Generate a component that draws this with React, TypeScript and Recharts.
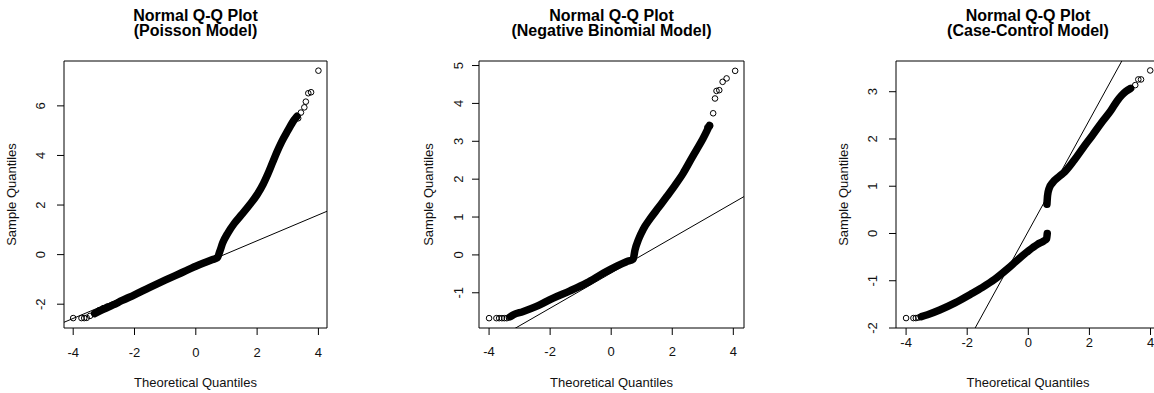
import React from 'react';
import { ComposedChart, Line, Scatter, XAxis, YAxis, ReferenceArea } from 'recharts';

type Pt = [number, number];

// ---------- data ----------
const xTicks = [-4, -2, 0, 2, 4];
const poissonYTicks = [-2, 0, 2, 4, 6];
const negBinYTicks = [-1, 0, 1, 2, 3, 4, 5];
const caseControlYTicks = [-2, -1, 0, 1, 2, 3];

// dense body of the Q-Q points (theoretical, sample)
const poissonBand: Pt[] = [
  [-3.3, -2.38], [-3.0, -2.2], [-2.7, -2.03], [-2.4, -1.85], [-2.0, -1.62], [-1.5, -1.32],
  [-1.0, -1.03], [-0.5, -0.75], [0.0, -0.47], [0.3, -0.32], [0.55, -0.2], [0.7, -0.13],
  [0.78, 0.12], [0.88, 0.48], [1.05, 0.88], [1.25, 1.25], [1.5, 1.62], [1.75, 2.0],
  [2.0, 2.42], [2.2, 2.85], [2.35, 3.25], [2.5, 3.7], [2.65, 4.15], [2.8, 4.55], [3.0, 5.0],
  [3.2, 5.42], [3.3, 5.58],
];
// sparse tail points
const poissonTails: Pt[] = [
  [-4.0, -2.56], [-3.73, -2.56], [-3.64, -2.56], [-3.56, -2.55], [-3.45, -2.47], [-3.3, -2.35],
  [-3.15, -2.24], [-3.02, -2.16], [-2.9, -2.1],
  [3.34, 5.5], [3.43, 5.73], [3.54, 5.94], [3.59, 6.17], [3.67, 6.51], [3.76, 6.55], [4.0, 7.42],
];
const poissonQQLine = { intercept: -0.485, slope: 0.522 };

const negBinBand: Pt[] = [
  [-3.3, -1.63], [-3.2, -1.58], [-2.9, -1.5], [-2.45, -1.36], [-1.9, -1.14], [-1.35, -0.95],
  [-0.8, -0.74], [-0.25, -0.48], [0.2, -0.29], [0.5, -0.18], [0.72, -0.11], [0.78, 0.13],
  [0.9, 0.42], [1.05, 0.68], [1.27, 0.95], [1.55, 1.25], [1.82, 1.54], [2.1, 1.85],
  [2.36, 2.16], [2.6, 2.5], [2.8, 2.78], [3.0, 3.06], [3.15, 3.3], [3.22, 3.42],
];
const negBinTails: Pt[] = [
  [-4.0, -1.67], [-3.76, -1.67], [-3.67, -1.67], [-3.58, -1.67], [-3.5, -1.67], [-3.42, -1.67], [-3.35, -1.65],
  [3.15, 3.37], [3.24, 3.4], [3.34, 3.74], [3.4, 4.13], [3.45, 4.33], [3.54, 4.35], [3.65, 4.57], [3.78, 4.66], [4.06, 4.86],
];
const negBinQQLine = { intercept: -0.478, slope: 0.464 };

const caseControlLowerBand: Pt[] = [
  [-3.5, -1.76], [-3.3, -1.72], [-2.9, -1.62], [-2.4, -1.47], [-1.9, -1.29], [-1.5, -1.14],
  [-1.1, -0.97], [-0.7, -0.76], [-0.3, -0.53], [0.0, -0.37], [0.3, -0.23], [0.5, -0.16],
  [0.6, -0.11], [0.62, 0.0],
];
const caseControlUpperBand: Pt[] = [
  [0.61, 0.62], [0.63, 0.8], [0.68, 0.95], [0.8, 1.08], [1.0, 1.2], [1.2, 1.31], [1.5, 1.55],
  [1.8, 1.82], [2.1, 2.08], [2.4, 2.35], [2.7, 2.6], [2.9, 2.8], [3.05, 2.92], [3.2, 3.01], [3.35, 3.07],
];
const caseControlTails: Pt[] = [
  [-4.0, -1.79], [-3.76, -1.79], [-3.68, -1.79], [-3.6, -1.78],
  [3.5, 3.14], [3.6, 3.26], [3.69, 3.26], [3.99, 3.45],
];
const caseControlQQLine = { intercept: 0.048, slope: 1.177 };

// ---------- rendering ----------
const FONT = '"Liberation Sans", Arial, Helvetica, sans-serif';
const TEXT = '#111';
const H = 393;
const BOX_TOP = 61;
const BOX_BOTTOM = 328;
const Y_AXIS_W = 40;
const X_AXIS_H = 30;

const toObj = (pts: Pt[]) => pts.map(([x, y]) => ({ x, y }));

const HollowCircle = (props: any) => {
  const { cx, cy } = props;
  if (cx == null || cy == null) return null;
  return <circle cx={cx} cy={cy} r={2.8} fill="none" stroke="#000" strokeWidth={1} />;
};

interface PanelProps {
  title: string;
  subtitle: string;
  chartLeft: number;
  chartWidth: number;
  boxLeft: number;
  boxRight: number;
  xDomain: [number, number];
  yDomain: [number, number];
  yTicks: number[];
  bands: Pt[][];
  tails: Pt[];
  qqLine: { intercept: number; slope: number };
  xTickBaseline: number;
  yTickGap: number;
  yLabelGap: number;
}

function QQPanel(p: PanelProps) {
  const margin = {
    top: BOX_TOP,
    bottom: H - BOX_BOTTOM - X_AXIS_H,
    left: p.boxLeft - p.chartLeft - Y_AXIS_W,
    right: p.chartLeft + p.chartWidth - p.boxRight,
  };
  const localBoxLeft = p.boxLeft - p.chartLeft;
  const localBoxCenter = (p.boxLeft + p.boxRight) / 2 - p.chartLeft;
  const lineData = [
    { x: p.xDomain[0], y: p.qqLine.intercept + p.qqLine.slope * p.xDomain[0] },
    { x: p.xDomain[1], y: p.qqLine.intercept + p.qqLine.slope * p.xDomain[1] },
  ];

  const XTick = (props: any) => (
    <text x={props.x} y={p.xTickBaseline} textAnchor="middle" fontFamily={FONT} fontSize={13} fill={TEXT}>
      {props.payload.value}
    </text>
  );
  const YTick = (props: any) => {
    const bx = localBoxLeft - p.yTickGap;
    return (
      <text
        x={bx}
        y={props.y}
        transform={`rotate(-90 ${bx} ${props.y})`}
        textAnchor="middle"
        fontFamily={FONT}
        fontSize={13}
        fill={TEXT}
      >
        {props.payload.value}
      </text>
    );
  };

  const yLabelX = localBoxLeft - p.yLabelGap;
  const yLabelY = (BOX_TOP + BOX_BOTTOM) / 2;

  return (
    <div style={{ position: 'absolute', left: p.chartLeft, top: 0, width: p.chartWidth, height: H }}>
      <ComposedChart width={p.chartWidth} height={H} margin={margin}>
        <XAxis
          type="number"
          dataKey="x"
          domain={p.xDomain}
          allowDataOverflow
          ticks={xTicks}
          interval={0}
          axisLine={false}
          tickLine={{ stroke: '#000' }}
          tickSize={7}
          height={X_AXIS_H}
          tick={XTick}
        />
        <YAxis
          type="number"
          dataKey="y"
          domain={p.yDomain}
          allowDataOverflow
          ticks={p.yTicks}
          interval={0}
          axisLine={false}
          tickLine={{ stroke: '#000' }}
          tickSize={7}
          width={Y_AXIS_W}
          tick={YTick}
        />
        <ReferenceArea
          x1={p.xDomain[0]}
          x2={p.xDomain[1]}
          y1={p.yDomain[0]}
          y2={p.yDomain[1]}
          fill="none"
          fillOpacity={0}
          stroke="#000"
          strokeWidth={1}
          ifOverflow="visible"
        />
        {p.bands.map((b, i) => (
          <Line
            key={i}
            data={toObj(b)}
            dataKey="y"
            type="monotone"
            stroke="#000"
            strokeWidth={7.5}
            strokeLinecap="round"
            strokeLinejoin="round"
            dot={false}
            activeDot={false}
            isAnimationActive={false}
          />
        ))}
        <Line
          data={lineData}
          dataKey="y"
          type="linear"
          stroke="#000"
          strokeWidth={1}
          dot={false}
          activeDot={false}
          isAnimationActive={false}
        />
        <Scatter data={toObj(p.tails)} dataKey="y" shape={HollowCircle} isAnimationActive={false} />
      </ComposedChart>
      <svg
        width={p.chartWidth}
        height={H}
        style={{ position: 'absolute', left: 0, top: 0, pointerEvents: 'none' }}
      >
        <text x={localBoxCenter} y={20.8} textAnchor="middle" fontFamily={FONT} fontSize={16} fontWeight="bold" fill="#000">
          {p.title}
        </text>
        <text x={localBoxCenter} y={36} textAnchor="middle" fontFamily={FONT} fontSize={16} fontWeight="bold" fill="#000">
          {p.subtitle}
        </text>
        <text x={localBoxCenter} y={386.5} textAnchor="middle" fontFamily={FONT} fontSize={13} fill={TEXT}>
          Theoretical Quantiles
        </text>
        <text
          x={yLabelX}
          y={yLabelY}
          transform={`rotate(-90 ${yLabelX} ${yLabelY})`}
          textAnchor="middle"
          fontFamily={FONT}
          fontSize={13}
          fill={TEXT}
        >
          Sample Quantiles
        </text>
      </svg>
    </div>
  );
}

export default function App() {
  return (
    <div
      style={{
        position: 'absolute',
        left: 0,
        top: 0,
        width: 1154,
        height: 393,
        overflow: 'hidden',
        background: '#fff',
      }}
    >
      <QQPanel
        title="Normal Q-Q Plot"
        subtitle="(Poisson Model)"
        chartLeft={0}
        chartWidth={360}
        boxLeft={64}
        boxRight={327}
        xDomain={[-4.3, 4.28]}
        yDomain={[-2.96, 7.81]}
        yTicks={poissonYTicks}
        bands={[poissonBand]}
        tails={poissonTails}
        qqLine={poissonQQLine}
        xTickBaseline={357}
        yTickGap={19}
        yLabelGap={48}
      />
      <QQPanel
        title="Normal Q-Q Plot"
        subtitle="(Negative Binomial Model)"
        chartLeft={400}
        chartWidth={370}
        boxLeft={479}
        boxRight={744}
        xDomain={[-4.33, 4.35]}
        yDomain={[-1.93, 5.12]}
        yTicks={negBinYTicks}
        bands={[negBinBand]}
        tails={negBinTails}
        qqLine={negBinQQLine}
        xTickBaseline={356}
        yTickGap={16}
        yLabelGap={46}
      />
      <QQPanel
        title="Normal Q-Q Plot"
        subtitle="(Case-Control Model)"
        chartLeft={820}
        chartWidth={360}
        boxLeft={896}
        boxRight={1160}
        xDomain={[-4.33, 4.31]}
        yDomain={[-2.0, 3.65]}
        yTicks={caseControlYTicks}
        bands={[caseControlLowerBand, caseControlUpperBand]}
        tails={caseControlTails}
        qqLine={caseControlQQLine}
        xTickBaseline={347}
        yTickGap={19}
        yLabelGap={48}
      />
    </div>
  );
}
